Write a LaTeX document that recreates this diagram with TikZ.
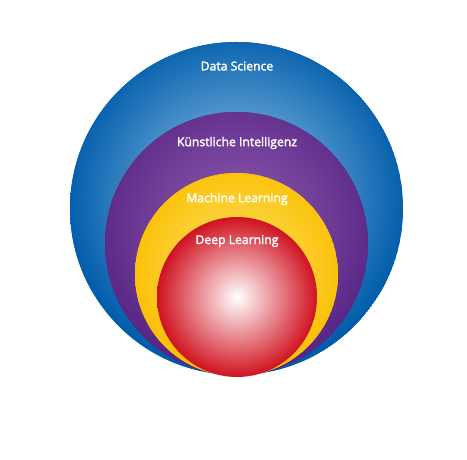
\documentclass[tikz,border=0pt]{standalone}
\usepackage{fontspec}
\setmainfont{Open Sans}[FakeBold=2.2]
\definecolor{blueout}{RGB}{0,92,170}
\definecolor{bluein}{RGB}{160,205,238}
\definecolor{purpout}{RGB}{88,36,132}
\definecolor{purpin}{RGB}{145,95,178}
\definecolor{yelout}{RGB}{250,190,0}
\definecolor{yelin}{RGB}{255,228,110}
\definecolor{redout}{RGB}{208,18,32}
\definecolor{redin}{RGB}{255,255,255}
\tikzset{lab/.style={text=white,font=\fontsize{12.2}{14}\selectfont,inner sep=0pt}}
\begin{document}
\begin{tikzpicture}[x=1pt,y=1pt]
\useasboundingbox (0,0) rectangle (467,460);
\fill[white] (0,0) rectangle (467,460);
% blue
\begin{scope}
\clip (236.5,251.5) circle (166.5);
\fill[blueout] (236.5,251.5) circle (166.5);
\shade[inner color=bluein,outer color=blueout] (236.5,262) circle (172);
\end{scope}
% purple
\begin{scope}
\clip (236.5,216.5) circle (131.5);
\fill[purpout] (236.5,216.5) circle (131.5);
\shade[inner color=purpin,outer color=purpout] (236.5,235) circle (150);
\end{scope}
% yellow
\begin{scope}
\clip (236.5,185.5) circle (101.5);
\fill[yelout] (236.5,185.5) circle (101.5);
\shade[inner color=yelin,outer color=yelout] (236.5,190) circle (112);
\end{scope}
% red
\shade[inner color=redin,outer color=redout] (237,163) circle (80);
\node[lab] (ds) at (237,394) {Data Science};
\node[lab] (ki) at (237,317) {Künstliche Intelligenz};
\node[lab] (ml) at (237,261) {Machine Learning};
\node[lab] (dl) at (237,219) {Deep Learning};
\end{tikzpicture}
\end{document}
